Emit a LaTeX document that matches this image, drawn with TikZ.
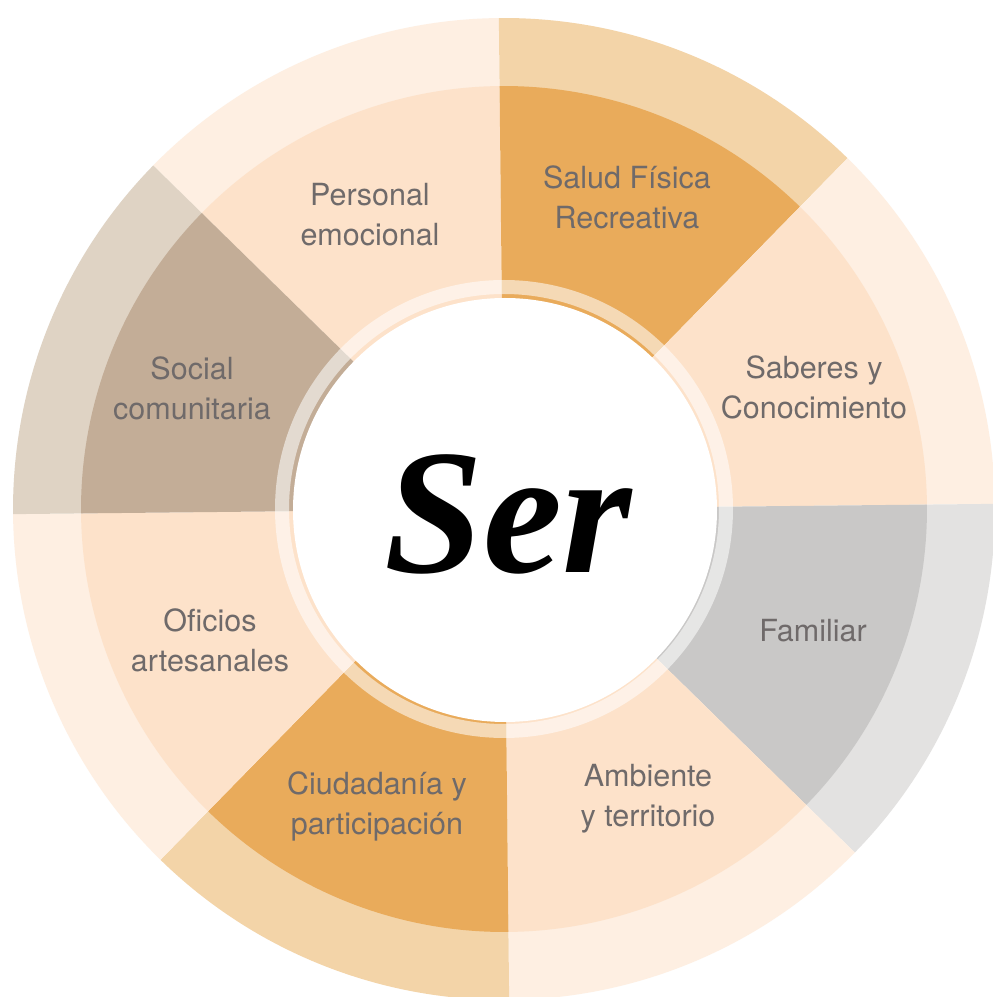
\documentclass[tikz,border=0pt]{standalone}
\usepackage{fontspec}
\setmainfont{TeX Gyre Heros}
\newfontfamily\serfont{Liberation Serif}
\newfontfamily\labfont{TeX Gyre Heros}
\definecolor{peach}{HTML}{FDE2CA}
\definecolor{peachL}{HTML}{FEEFE2}
\definecolor{orng}{HTML}{E9AB5B}
\definecolor{orngL}{HTML}{F3D4A8}
\definecolor{greyM}{HTML}{C9C8C7}
\definecolor{greyL}{HTML}{E3E2E1}
\definecolor{taupe}{HTML}{C3AD97}
\definecolor{taupeL}{HTML}{DFD3C4}
\definecolor{txtgrey}{HTML}{6F6A6A}
\begin{document}
\begin{tikzpicture}[x=1pt,y=1pt,
  lab/.style={align=center, text=txtgrey, inner sep=0pt,
    font=\labfont\fontsize{30.5}{40}\selectfont}]
\useasboundingbox (0,0) rectangle (993,997);
\fill[white] (0,0) rectangle (993,997);
\begin{scope}[shift={(504,488)}]
  \foreach \a/\mc/\oc in {90/peach/peachL, 45/orng/orngL, 0/peach/peachL,
      -45/greyM/greyL, -90/peach/peachL, -135/orng/orngL,
      180/peach/peachL, 135/taupe/taupeL} {
    \pgfmathsetmacro\aa{\a+0.6}
    \pgfmathsetmacro\bb{\a+45.6}
    \fill[\oc] (\aa:421) arc[start angle=\aa, end angle=\bb, radius=421]
      -- (\bb:491) arc[start angle=\bb, end angle=\aa, radius=491] -- cycle;
    \fill[\mc] (\aa:200) arc[start angle=\aa, end angle=\bb, radius=200]
      -- (\bb:423) arc[start angle=\bb, end angle=\aa, radius=423] -- cycle;
  }
  \fill[white, opacity=0.55, even odd rule] (0,0) circle[radius=229] (0,0) circle[radius=215];
  \fill[white] (1,-1) circle[radius=212];
\end{scope}
\node (ser) [anchor=base west, inner sep=0pt, text=black,
  font=\serfont\bfseries\itshape\fontsize{178}{178}\selectfont] at (384,424) {Ser};
\node[lab] (personal) at (370,782) {Personal\\emocional};
\node[lab] (salud) at (627,800) {Salud Física\\Recreativa};
\node[lab] (saberes) at (814,610) {Saberes y\\Conocimiento};
\node[lab] (familiar) at (813,366) {Familiar};
\node[lab] (ambiente) at (648,198) {Ambiente\\y territorio};
\node[lab] (ciudadania) at (377,191) {Ciudadanía y\\participación};
\node[lab] (oficios) at (210,357) {Oficios\\artesanales};
\node[lab] (social) at (192,609) {Social\\comunitaria};
\end{tikzpicture}
\end{document}
